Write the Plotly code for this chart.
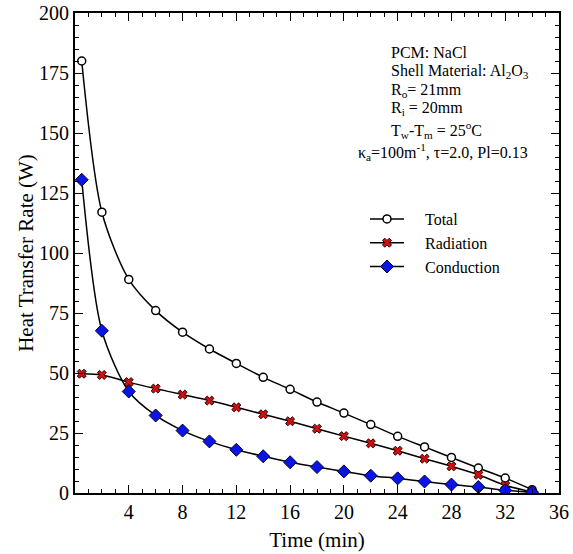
import plotly.graph_objects as go

# Time samples (min)
time_min = [0.5, 2, 4, 6, 8, 10, 12, 14, 16, 18, 20, 22, 24, 26, 28, 30, 32, 34]

# Heat transfer rates (W)
total_w = [180, 117, 89, 76, 67, 60, 54, 48.2, 43.2, 37.9, 33.3, 28.5, 23.6, 19.2, 14.8, 10.4, 6.2, 1.4]
radiation_w = [49.7, 49.2, 46.2, 43.5, 41, 38.5, 35.7, 32.8, 29.9, 26.8, 23.7, 20.7, 17.6, 14.3, 11.1, 7.6, 3.2, 0.4]
conduction_w = [130.5, 67.6, 42.3, 32.3, 26, 21.5, 18, 15.3, 12.8, 10.8, 9.0, 7.2, 6.1, 4.8, 3.5, 2.5, 1.1, 0.3]

x_ticks = [4, 8, 12, 16, 20, 24, 28, 32, 36]
y_ticks = [0, 25, 50, 75, 100, 125, 150, 175, 200]

FONT = "Liberation Serif, Times New Roman, serif"
PAD = "\u00a0" * 4  # gap between legend symbol and label

fig = go.Figure()
fig.add_trace(go.Scatter(
    x=time_min, y=total_w, name=PAD + "Total", mode="lines+markers",
    line=dict(color="black", width=1.5, shape="spline", smoothing=0.8),
    marker=dict(symbol="circle", size=8, color="white", line=dict(color="black", width=1.5)),
))
fig.add_trace(go.Scatter(
    x=time_min, y=radiation_w, name=PAD + "Radiation", mode="lines+markers",
    line=dict(color="black", width=1.5, shape="spline", smoothing=0.8),
    marker=dict(symbol="x", size=8, color="#d01010", line=dict(color="#300000", width=1)),
))
fig.add_trace(go.Scatter(
    x=time_min, y=conduction_w, name=PAD + "Conduction", mode="lines+markers",
    line=dict(color="black", width=1.5, shape="spline", smoothing=0.8),
    marker=dict(symbol="diamond", size=10, color="#0a14e6", line=dict(color="#000030", width=1)),
))

axis_common = dict(
    showline=True, linecolor="black", linewidth=2, mirror="allticks",
    ticks="inside", ticklen=8, tickwidth=1.2, tickcolor="black",
    showgrid=False, zeroline=False, automargin=False,
    tickfont=dict(family=FONT, size=20, color="black"),
)

fig.update_xaxes(
    range=[0, 36], tickvals=x_ticks, ticktext=[str(v) for v in x_ticks],
    minor=dict(ticks="inside", dtick=1, ticklen=4, tickcolor="black", tickwidth=1),
    title=dict(text="Time (min)", font=dict(family=FONT, size=21, color="black"), standoff=10),
    **axis_common,
)
fig.update_yaxes(
    range=[0, 200], tickvals=y_ticks, ticktext=[str(v) for v in y_ticks],
    minor=dict(ticks="inside", dtick=5, ticklen=4, tickcolor="black", tickwidth=1),
    title=dict(text="Heat Transfer Rate (W)", font=dict(family=FONT, size=21, color="black"), standoff=0),
    **axis_common,
)

info_lines = [
    ("PCM: NaCl", 389, 52),
    ("Shell Material: Al<sub>2</sub>O<sub>3</sub>", 389, 71),
    ("R<sub>o</sub>= 21mm", 389, 90),
    ("R<sub>i</sub> = 20mm", 389, 109),
    ("T<sub>w</sub>-T<sub>m</sub> = 25<sup>o</sup>C", 389, 130),
    ("κ<sub>a</sub>=100m<sup>-1</sup>, τ=2.0, Pl=0.13", 356, 152),
]
L, R, T, B = 75, 14, 13, 61
W, H = 573, 554
pw, ph = W - L - R, H - T - B
for text, px, py in info_lines:
    fig.add_annotation(
        text=text, xref="paper", yref="paper",
        x=(px - L) / pw, y=1 - (py - T) / ph,
        xanchor="left", yanchor="middle", showarrow=False,
        font=dict(family=FONT, size=16, color="black"),
    )

fig.update_layout(
    width=W, height=H,
    margin=dict(l=L, r=R, t=T, b=B),
    paper_bgcolor="white", plot_bgcolor="white",
    font=dict(family=FONT, color="black"),
    legend=dict(
        x=(365 - L) / pw, y=1 - (202 - T) / ph, xanchor="left", yanchor="top",
        bgcolor="rgba(0,0,0,0)", font=dict(family=FONT, size=16, color="black"),
        itemwidth=34, tracegroupgap=0,
    ),
)

fig.write_html("out.html")
